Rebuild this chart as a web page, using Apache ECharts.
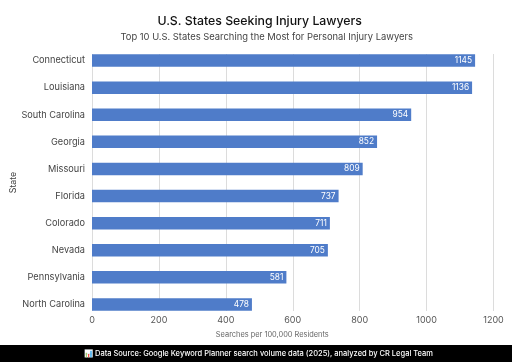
<!DOCTYPE html>
<html><head><meta charset="utf-8">
<style>html,body{margin:0;padding:0;background:#fff}#c{width:512px;height:362px}</style>
<script src="https://cdn.jsdelivr.net/npm/echarts@6/dist/echarts.min.js"></script>
</head><body><div id="c"></div>
<script>
const states = ['Connecticut','Louisiana','South Carolina','Georgia','Missouri','Florida','Colorado','Nevada','Pennsylvania','North Carolina'];
const searches = [1145,1136,954,852,809,737,711,705,581,478];
const xTicks = {min:0,max:1200,interval:200};
const titleText = 'U.S. States Seeking Injury Lawyers';
const subtitleText = 'Top 10 U.S. States Searching the Most for Personal Injury Lawyers';
const footerText = '📊 Data Source: Google Keyword Planner search volume data (2025), analyzed by CR Legal Team';
const font = 'Inter, Lato, sans-serif';
const chart = echarts.init(document.getElementById('c'),null,{renderer:'canvas'});
chart.setOption({
  animation:false,
  backgroundColor:'#fff',
  textStyle:{fontFamily:font},
  title:[
    {text:titleText,left:259.7,top:15,padding:0,textAlign:'center',textStyle:{fontFamily:font,fontSize:12.3,fontWeight:500,color:'#111'}},
    {text:subtitleText,left:266.7,top:32.5,padding:0,textAlign:'center',textStyle:{fontFamily:font,fontSize:9.4,fontWeight:400,color:'#444'}}
  ],
  grid:[
    {left:92,right:18.5,top:47,bottom:44,show:false,outerBoundsMode:'none'},
    {left:92,right:18.5,top:54,bottom:51,show:false,outerBoundsMode:'none'}
  ],
  xAxis:[
    {gridIndex:0,type:'value',...xTicks,
     axisLine:{show:false},axisTick:{show:false},splitLine:{show:false},
     axisLabel:{color:'#555',fontSize:9,margin:-2,fontFamily:font,formatter:v=>String(v),hideOverlap:false,showMinLabel:true,showMaxLabel:true},
     name:'Searches per 100,000 Residents',nameLocation:'middle',nameGap:13,nameMoveOverlap:false,
     nameTextStyle:{color:'#666',fontSize:7.4,fontFamily:font,padding:[0,41,0,0]}},
    {gridIndex:1,type:'value',...xTicks,
     axisLine:{show:false},axisTick:{show:false},axisLabel:{show:false},
     splitLine:{show:true,showMinLine:true,showMaxLine:true,lineStyle:{color:'#dcdcdc',width:1}}}
  ],
  yAxis:[
    {gridIndex:0,type:'category',inverse:true,data:states,
     axisLine:{show:false},axisTick:{show:false},
     axisLabel:{color:'#444',fontSize:9.2,margin:7,fontFamily:font},
     name:'State',nameLocation:'middle',nameGap:74,nameMoveOverlap:false,
     nameTextStyle:{color:'#444',fontSize:8.8,fontFamily:font}},
    {gridIndex:1,type:'category',inverse:true,data:states,show:false}
  ],
  series:[{
    type:'bar',xAxisIndex:0,yAxisIndex:0,data:searches,barWidth:12.5,
    itemStyle:{color:'#4f7cc9'},
    label:{show:true,position:'insideRight',distance:3,color:'#fff',fontSize:8.4,fontFamily:font}
  }],
  graphic:[
    {type:'rect',shape:{x:0,y:345,width:512,height:17},style:{fill:'#000'}},
    {type:'text',x:258.5,y:353.5,style:{text:footerText,fill:'#fff',font:'500 7.5px '+font,textAlign:'center',textVerticalAlign:'middle'}}
  ]
});
</script></body></html>
